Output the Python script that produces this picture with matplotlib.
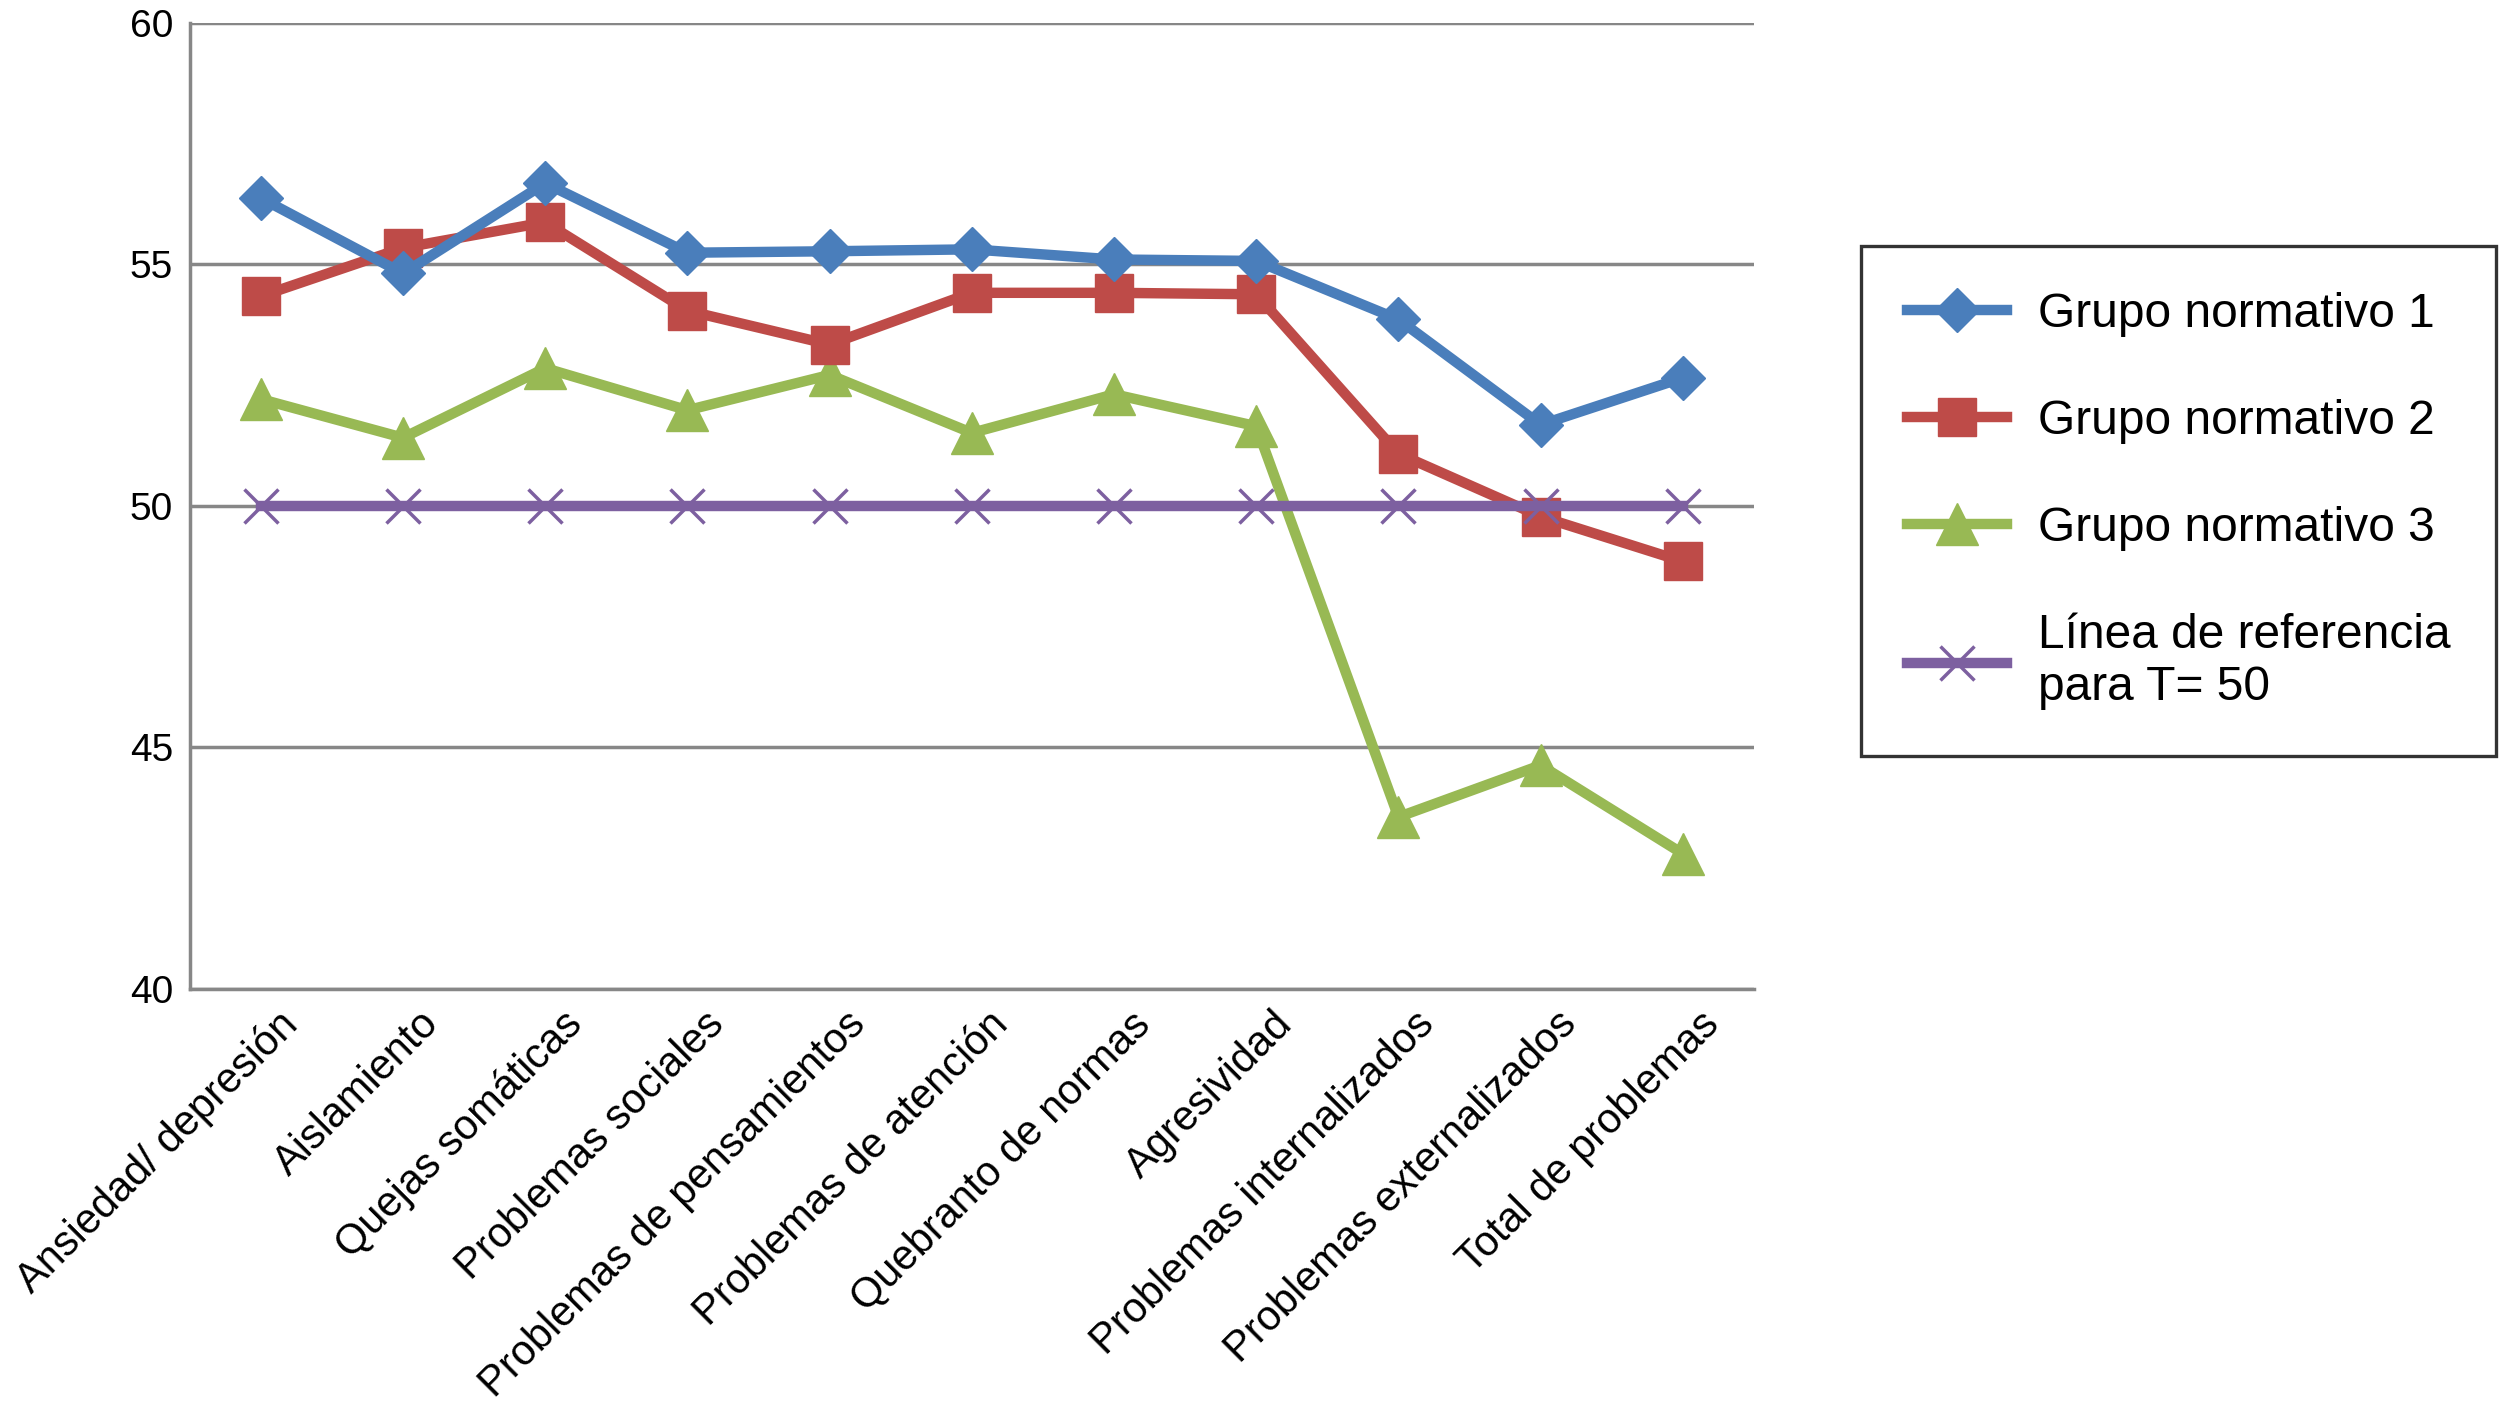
import numpy as np
import matplotlib
matplotlib.use('Agg')
import matplotlib.pyplot as plt
import matplotlib.transforms as mtransforms

plt.rcParams['font.family'] = ['Liberation Sans', 'DejaVu Sans']

categorias = ['Ansiedad/ depresión', 'Aislamiento', 'Quejas somáticas', 'Problemas sociales',
              'Problemas de pensamientos', 'Problemas de atención', 'Quebranto de normas',
              'Agresividad', 'Problemas internalizados', 'Problemas externalizados',
              'Total de problemas']
grupo1 = [56.37, 54.81, 56.68, 55.24, 55.27, 55.31, 55.10, 55.07, 53.86, 51.68, 52.65]
grupo2 = [54.34, 55.34, 55.87, 54.04, 53.34, 54.41, 54.41, 54.38, 51.08, 49.78, 48.85]
grupo3 = [52.21, 51.41, 52.85, 51.98, 52.71, 51.51, 52.31, 51.65, 43.56, 44.63, 42.80]
referencia = [50] * len(categorias)

etiquetas = ['Grupo normativo 1', 'Grupo normativo 2', 'Grupo normativo 3',
             'Línea de referencia\npara T= 50']

fig = plt.figure(figsize=(25.2, 14.22), dpi=100)
ax = fig.add_axes([0.0753, 0.3045, 0.6207, 0.6795])

x = np.arange(len(categorias))
lw = 7.5
ax.plot(x, grupo1, color='#4A7EBB', lw=lw, marker='D', ms=22, label=etiquetas[0], zorder=5)
ax.plot(x, grupo2, color='#BE4B48', lw=lw, marker='s', ms=27, label=etiquetas[1], zorder=4)
ax.plot(x, grupo3, color='#98B954', lw=lw, marker='^', ms=30, label=etiquetas[2], zorder=3)
ax.plot(x, referencia, color='#7D60A0', lw=lw, marker='x', ms=25, mew=2.5, label=etiquetas[3], zorder=6)

ax.set_xlim(-0.5, len(categorias) - 0.5)
ax.set_ylim(40, 60)
ax.set_yticks([40, 45, 50, 55, 60])
ax.yaxis.grid(True, color='#878787', lw=2.5)
ax.set_axisbelow(True)
for s in ['top', 'right']:
    ax.spines[s].set_visible(False)
ax.spines['left'].set_color('#878787')
ax.spines['left'].set_linewidth(2.5)
ax.spines['bottom'].set_color('#878787')
ax.spines['bottom'].set_linewidth(2.5)
ax.tick_params(axis='both', length=0, labelsize=28)
ax.tick_params(axis='y', pad=12)

ax.set_xticks(x)
ax.set_xticklabels(categorias, rotation=45, ha='right', va='top', rotation_mode='anchor', fontsize=30)
offset = mtransforms.ScaledTranslation(0.16, -0.10, fig.dpi_scale_trans)
for lab in ax.get_xticklabels():
    lab.set_transform(lab.get_transform() + offset)

leg = ax.legend(loc='upper left', bbox_to_anchor=(0.7385, 0.827), bbox_transform=fig.transFigure,
                fontsize=34.5, frameon=True, fancybox=False, edgecolor='black', borderpad=0.95,
                handlelength=2.1, handletextpad=0.65, labelspacing=1.3, borderaxespad=0)
leg.get_frame().set_linewidth(2.4)

fig.savefig('out.png', dpi=100)
